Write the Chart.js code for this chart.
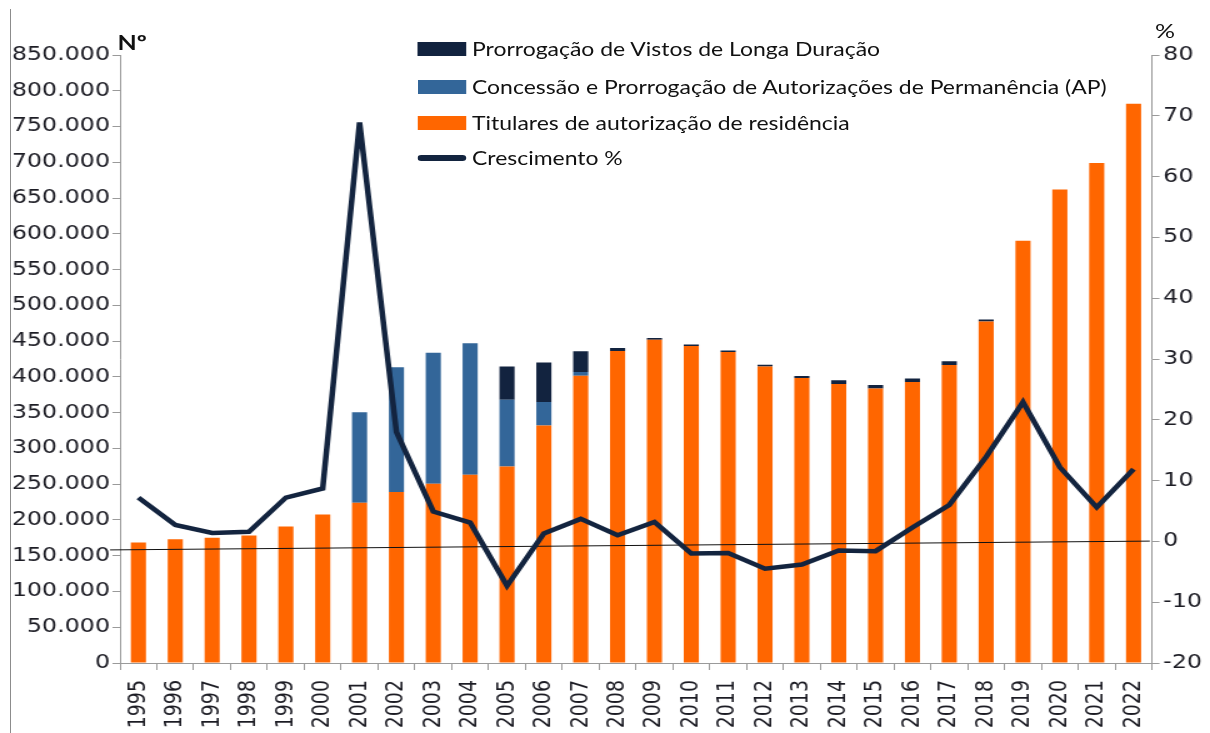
<!DOCTYPE html>
<html><head><meta charset="utf-8">
<script src="https://cdn.jsdelivr.net/npm/chart.js@4.4.0/dist/chart.umd.min.js"></script>
<style>
html,body{margin:0;padding:0;background:#fff;overflow:hidden;width:1210px;height:733px;}
#wrap{position:absolute;left:0;top:0;width:968px;height:733px;transform:scaleX(1.25);transform-origin:0 0;}
#c{position:absolute;left:0;top:0;}
#frame{position:absolute;left:8px;top:9px;width:0;height:724px;border-left:1px solid #8c8c8c;}
.lg{position:absolute;left:377.6px;font-family:'Liberation Sans Narrow','Arial Narrow',Lato,sans-serif;font-size:20px;color:#111;white-space:nowrap;line-height:24px;}
.sw{position:absolute;left:334.4px;width:38.4px;height:14px;}
.ax{position:absolute;font-family:'Liberation Sans Narrow','Arial Narrow',Lato,sans-serif;font-weight:bold;font-size:20px;color:#111;line-height:20px;}
</style></head>
<body>
<div id="wrap">
  <canvas id="c" width="968" height="733"></canvas>
  <div id="frame"></div>
  <div class="ax" style="left:94px;top:32px;">Nº</div>
  <div class="ax" style="left:924px;top:20px;font-weight:normal;">%</div>
  <div class="sw" style="top:42px;background:#12233F;"></div>
  <div class="lg" id="l1" style="top:37px;">Prorrogação de Vistos de Longa Duração</div>
  <div class="sw" style="top:80px;background:#336699;"></div>
  <div class="lg" id="l2" style="top:75px;">Concessão e Prorrogação de Autorizações de Permanência (AP)</div>
  <div class="sw" style="top:116px;background:#FF6600;"></div>
  <div class="lg" id="l3" style="top:111px;">Titulares de autorização de residência</div>
  <div class="sw" style="top:155px;height:6px;border-radius:3px;background:#13243F;"></div>
  <div class="lg" id="l4" style="top:146px;">Crescimento %</div>
</div>
<script>
const years = ['1995','1996','1997','1998','1999','2000','2001','2002','2003','2004','2005','2006','2007','2008','2009','2010','2011','2012','2013','2014','2015','2016','2017','2018','2019','2020','2021','2022'];
const titulares = [168316,172912,175263,178137,190896,207587,223976,238929,250697,263322,274631,332137,401612,436020,451742,443055,434708,414610,398268,390113,383759,392969,416682,477472,590348,662095,698887,781915];
const autorizacoesPermanencia = [0,0,0,0,0,0,126527,174558,182953,183833,93391,32661,5305,0,0,0,0,0,0,0,0,0,0,0,0,0,0,0];
const vistosLongaDuracao = [0,0,0,0,0,0,0,0,0,0,46637,55391,28819,4257,2449,2207,2114,2432,3052,5082,4972,4762,5029,2828,0,0,0,0];
const crescimento = [7.2,2.7,1.4,1.6,7.2,8.7,68.9,18.0,4.9,3.1,-7.3,1.3,3.7,1.0,3.2,-2.0,-1.9,-4.5,-3.8,-1.5,-1.6,2.3,6.0,13.9,22.9,12.2,5.6,11.9];
const trendX = [-0.77, 27.44];
const trendY = [-1.4, 0.05];
const leftTicks = {min:0, max:850000, step:50000};
const rightTicks = {min:-20, max:80, step:10};

const tickFont = {family:'"DejaVu Sans", Verdana, sans-serif', size:19};
const tickColor = '#1c1c24';
const axisColor = '#9a9a9a';
const fmt = v => String(v).replace(/\B(?=(\d{3})+(?!\d))/g,'.');
const barCommon = {type:'bar', xAxisID:'x', yAxisID:'y', stack:'s', order:2, grouped:false, categoryPercentage:1, barPercentage:0.41};

new Chart(document.getElementById('c'), {
  type:'bar',
  data: {
    labels: years,
    datasets: [
      Object.assign({label:'Titulares de autorização de residência', data:titulares, backgroundColor:'#FF6600'}, barCommon),
      Object.assign({label:'Concessão e Prorrogação de Autorizações de Permanência (AP)', data:autorizacoesPermanencia, backgroundColor:'#336699'}, barCommon),
      Object.assign({label:'Prorrogação de Vistos de Longa Duração', data:vistosLongaDuracao, backgroundColor:'#12233F'}, barCommon),
      {type:'line', label:'Crescimento %', data:crescimento, xAxisID:'x', yAxisID:'y1', borderColor:'#13243F', borderWidth:4.5, pointRadius:0, tension:0, order:0, borderJoinStyle:'miter'},
      {type:'line', label:'trend', data:trendX.map((x,i)=>({x:x, y:trendY[i]})), xAxisID:'xt', yAxisID:'y1', borderColor:'#111', borderWidth:1, pointRadius:0, order:1, clip:false}
    ]
  },
  options: {
    responsive:false, animation:false, devicePixelRatio:1,
    layout:{padding:{top:55,left:0,right:0,bottom:0}},
    plugins:{legend:{display:false}, tooltip:{enabled:false}},
    scales:{
      x:{type:'category', stacked:true, offset:true,
         grid:{offset:true, drawOnChartArea:false, tickLength:7, color:axisColor},
         border:{color:axisColor},
         ticks:{minRotation:90, maxRotation:90, autoSkip:false, padding:10, font:tickFont, color:tickColor},
         afterFit: s => { s.height = 70; }},
      xt:{type:'linear', display:false, offset:false, grid:{offset:false}, min:-0.5, max:27.5},
      y:{position:'left', stacked:true, min:leftTicks.min, max:leftTicks.max,
         grid:{drawOnChartArea:false, tickLength:6, color:axisColor},
         border:{color:axisColor},
         ticks:{stepSize:leftTicks.step, padding:2, font:tickFont, color:tickColor, callback:v=>fmt(v)},
         afterFit: s => { s.width = 96; }},
      y1:{position:'right', stacked:false, min:rightTicks.min, max:rightTicks.max,
         grid:{drawOnChartArea:false, tickLength:6, color:axisColor},
         border:{color:axisColor},
         ticks:{stepSize:rightTicks.step, padding:3, font:tickFont, color:tickColor},
         afterFit: s => { s.width = 46.4; }}
    }
  }
});

// fit legend text width to reference
const l2 = document.getElementById('l2');
const w = l2.offsetWidth;
if (w > 0) {
  const fs = 20 * 508 / w;
  document.querySelectorAll('.lg').forEach(e => e.style.fontSize = fs.toFixed(2) + 'px');
}
</script>
</body></html>
